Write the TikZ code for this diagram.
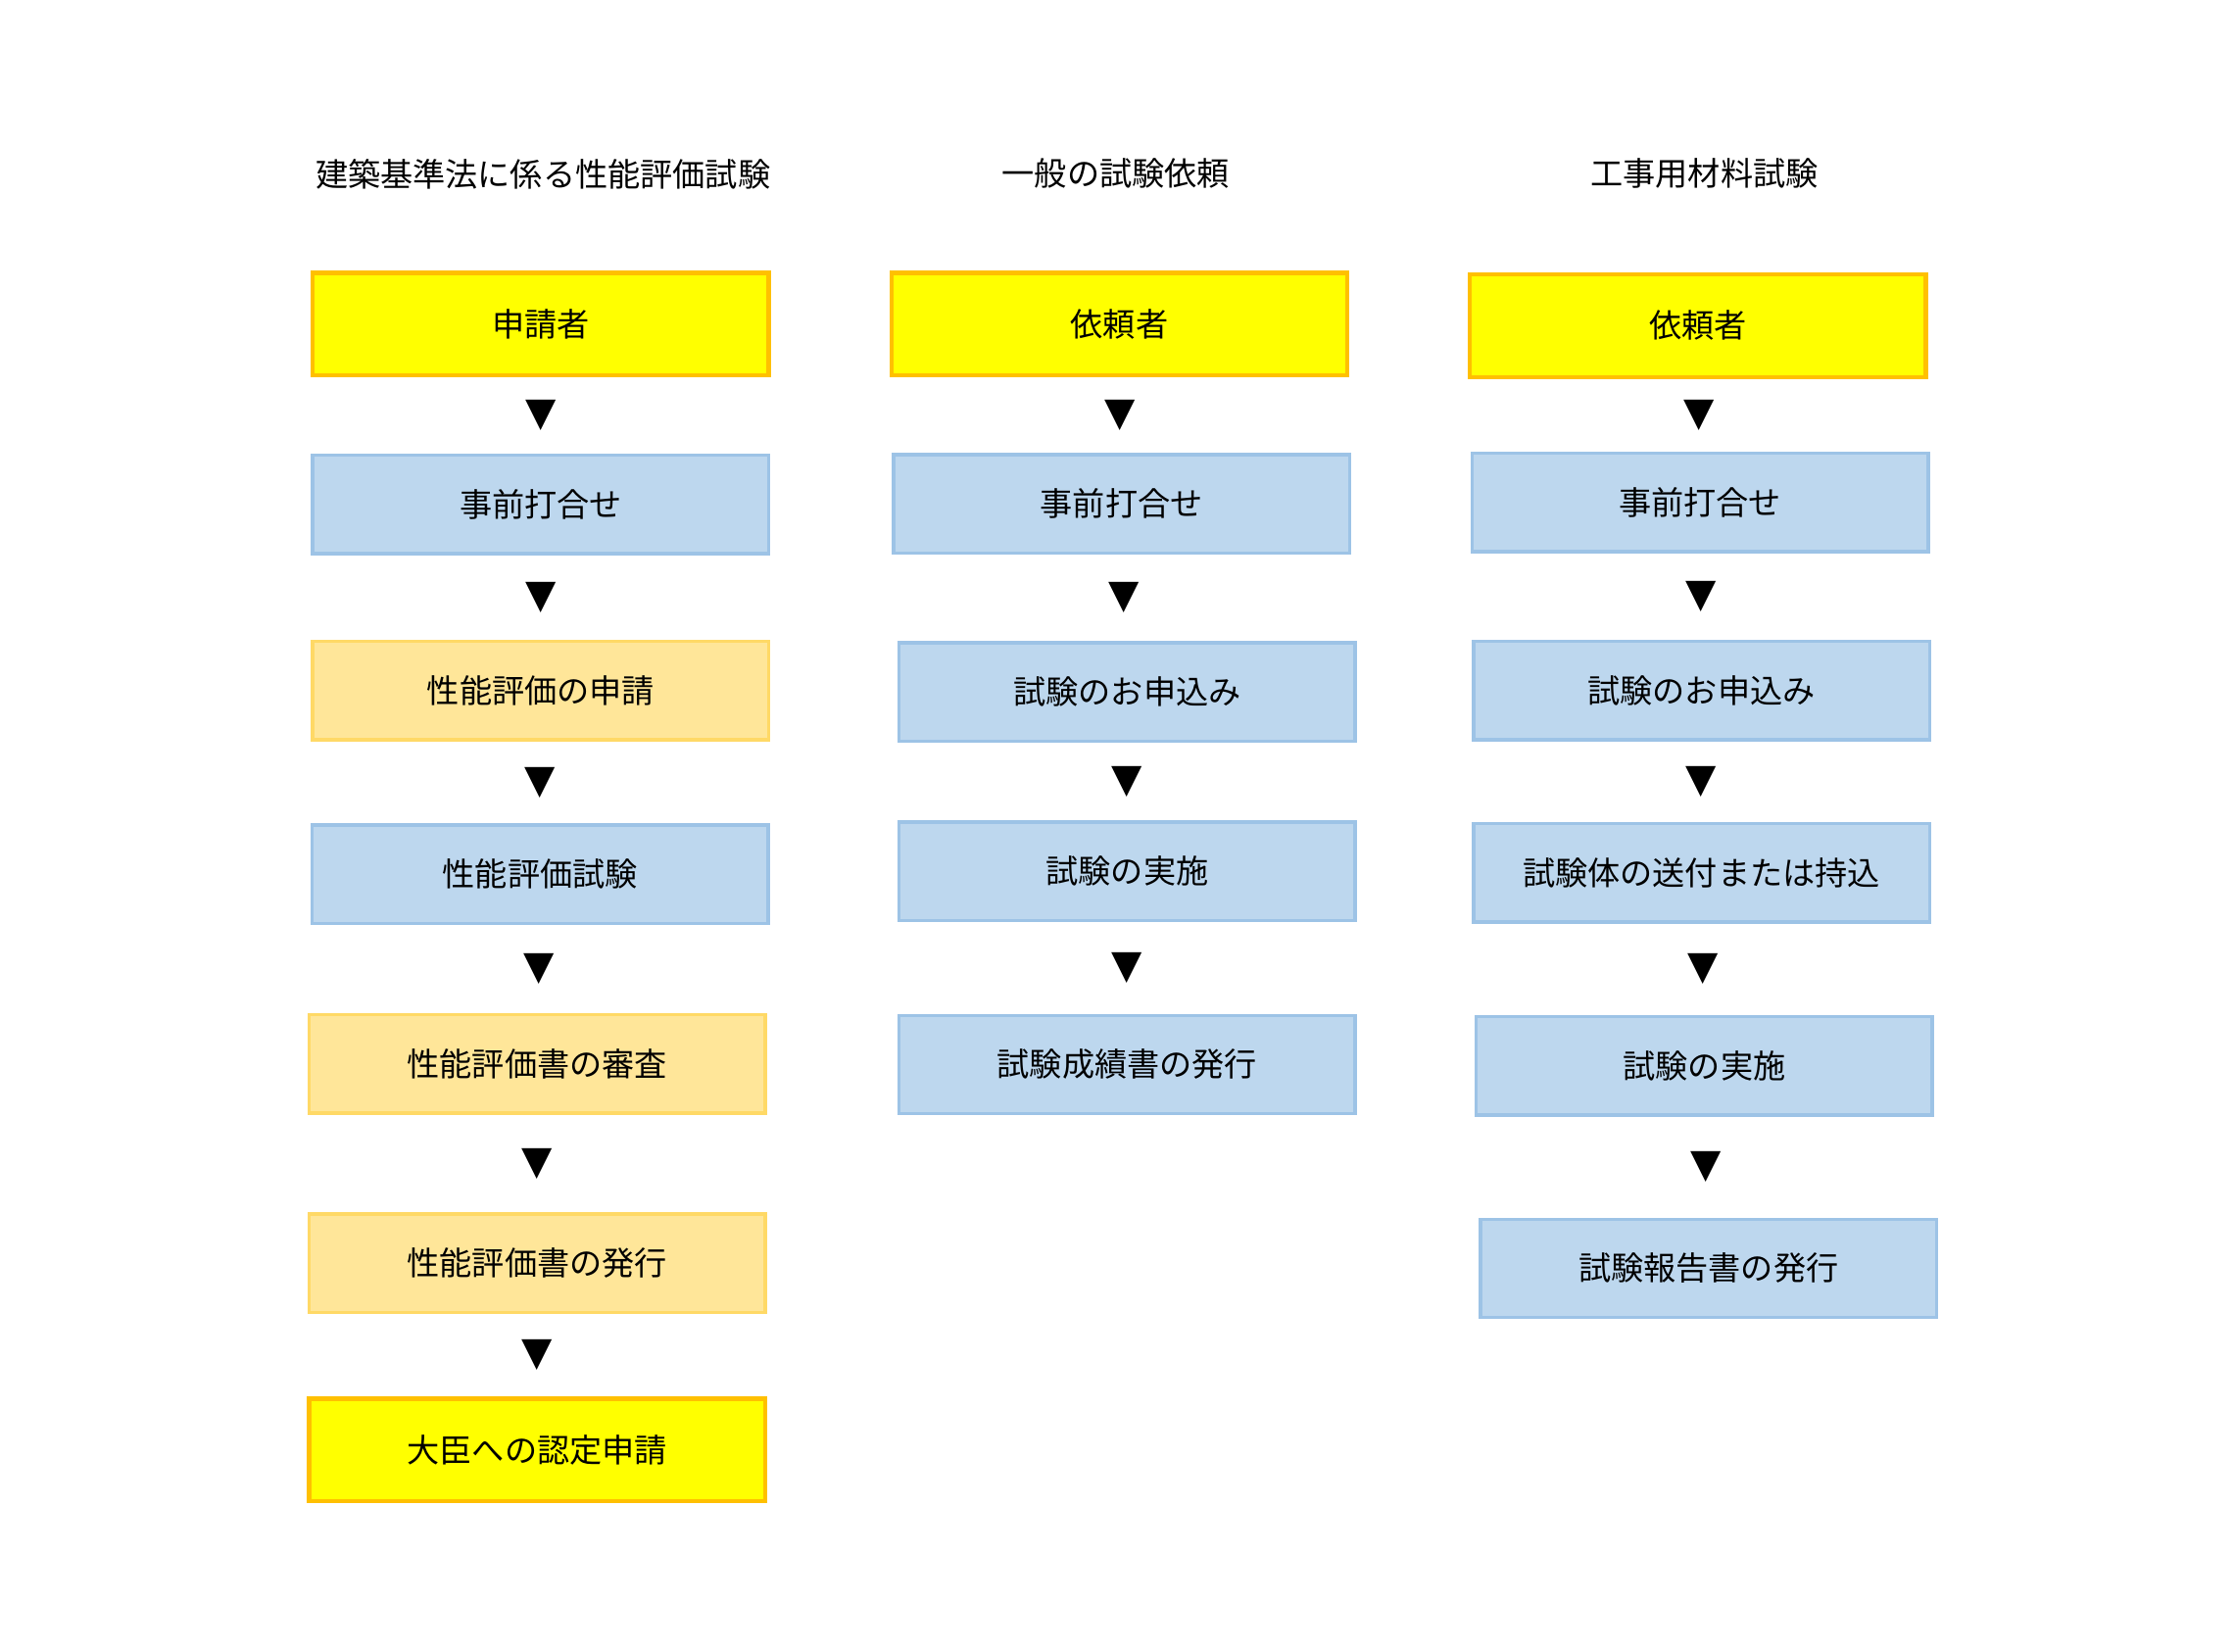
\documentclass[tikz,border=0pt]{standalone}
\usepackage{fontspec}
\newfontfamily\jpfont{Noto Sans CJK JP}
\newfontfamily\symfont{DejaVu Sans}
\usetikzlibrary{calc}

\definecolor{boxyellow}{HTML}{FFFF00}
\definecolor{edgeyellow}{HTML}{FFC000}
\definecolor{boxblue}{HTML}{BDD7EE}
\definecolor{edgeblue}{HTML}{9DC3E6}
\definecolor{boxcream}{HTML}{FFE699}
\definecolor{edgecream}{HTML}{FFD966}

\tikzset{
    base node/.style={rectangle,draw,line width=1.2pt,minimum width=160pt,minimum height=34.5pt,inner sep=0,font=\jpfont\fontsize{11.4}{13}\selectfont},
    blue node/.style={base node,fill=boxblue,draw=edgeblue},
    cream node/.style={base node,fill=boxcream,draw=edgecream},
    yellow node/.style={base node,fill=boxyellow,draw=edgeyellow,line width=1.5pt,minimum height=36pt},
    title node/.style={font=\jpfont\fontsize{11.4}{13}\selectfont},
    down node/.style={font=\symfont\fontsize{14}{14}\selectfont,inner sep=0}
    }

\begin{document}
\begin{tikzpicture}[x=0.5pt,y=-0.5pt]
                \useasboundingbox (0,0) rectangle (1567,1158.6);
                \node(t1)[title node] at (381,122){建築基準法に係る性能評価試験};
                \node(t2)[title node] at (783,122){一般の試験依頼};
                \node(t3)[title node] at (1196,122){工事用材料試験};

                \node(a1)[yellow node] at (379.5,227.5){申請者};
                \node(a2)[blue node] at (379.5,354){事前打合せ};
                \node(a3)[cream node] at (379.5,484.5){性能評価の申請};
                \node(a4)[blue node] at (379,613.5){性能評価試験};
                \node(a5)[cream node] at (377,746.5){性能評価書の審査};
                \node(a6)[cream node] at (377,886.5){性能評価書の発行};
                \node(a7)[yellow node] at (377,1017.5){大臣への認定申請};

                \node(b1)[yellow node] at (785.5,227.5){依頼者};
                \node(b2)[blue node] at (787,353.5){事前打合せ};
                \node(b3)[blue node] at (791,485.5){試験のお申込み};
                \node(b4)[blue node] at (791,611.5){試験の実施};
                \node(b5)[blue node] at (791,747){試験成績書の発行};

                \node(c1)[yellow node] at (1191.5,228.5){依頼者};
                \node(c2)[blue node] at (1193,352.5){事前打合せ};
                \node(c3)[blue node] at (1194,484.5){試験のお申込み};
                \node(c4)[blue node] at (1194,612.5){試験体の送付または持込};
                \node(c5)[blue node] at (1196,748){試験の実施};
                \node(c6)[blue node] at (1199,890){試験報告書の発行};

                \foreach \u/\v in {a1/a2,a2/a3,a3/a4,a4/a5,a5/a6,a6/a7,b1/b2,b2/b3,b3/b4,b4/b5,c1/c2,c2/c3,c3/c4,c4/c5,c5/c6}
                    \node(\u-\v)[down node] at ($(\u.south)!0.5!(\v.north)$){▼};
            \end{tikzpicture}
\end{document}
